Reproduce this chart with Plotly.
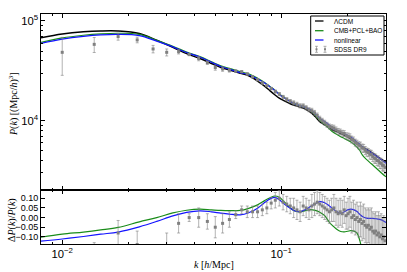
import plotly.graph_objects as go
from plotly.subplots import make_subplots

# ---------------- data ----------------
k_model = [0.008, 0.010, 0.0125, 0.015, 0.018, 0.0225, 0.027, 0.032, 0.037, 0.0425,
           0.048, 0.053, 0.058, 0.065, 0.071, 0.078, 0.084, 0.089, 0.0935, 0.098,
           0.104, 0.110, 0.116, 0.122, 0.129, 0.136, 0.143, 0.150, 0.158, 0.166,
           0.173, 0.180, 0.187, 0.194, 0.201, 0.208, 0.215, 0.222, 0.228, 0.235,
           0.245, 0.258, 0.272, 0.287, 0.301]
p_lcdm = [68000, 74000, 77800, 79400, 79400, 75000, 64000, 54500, 47000, 42000,
          37500, 34200, 32300, 29900, 28200, 25000, 22200, 19900, 18200, 16800,
          15700, 14800, 14200, 13700, 13100, 12200, 11000, 9800, 9100, 8500,
          8000, 7760, 7450, 7170, 6870, 6560, 6250, 5900, 5720, 5450,
          5150, 4800, 4450, 4100, 3850]
dp_cmb = [-0.102, -0.086, -0.075, -0.064, -0.051, -0.022, 0.0, 0.024, 0.038, 0.044,
          0.040, 0.037, 0.036, 0.037, 0.048, 0.066, 0.088, 0.103, 0.112, 0.105,
          0.078, 0.050, 0.033, 0.030, 0.036, 0.041, 0.037, 0.028, 0.010, -0.025,
          -0.045, -0.062, -0.072, -0.074, -0.071, -0.068, -0.070, -0.081, -0.115, -0.170,
          -0.205, -0.230, -0.250, -0.270, -0.290]
dp_nonlin = [-0.122, -0.111, -0.098, -0.086, -0.075, -0.048, -0.020, 0.009, 0.027, 0.035,
             0.030, 0.023, 0.018, 0.014, 0.025, 0.049, 0.078, 0.097, 0.105, 0.092,
             0.068, 0.049, 0.034, 0.031, 0.042, 0.057, 0.072, 0.083, 0.077, 0.060,
             0.044, 0.030, 0.023, 0.030, 0.040, 0.044, 0.040, 0.031, 0.018, 0.005,
             -0.003, -0.004, -0.006, -0.012, -0.026]

k_data = [0.010, 0.014, 0.018, 0.022, 0.026, 0.030, 0.034, 0.038, 0.042, 0.046,
          0.050, 0.054, 0.058, 0.062, 0.066, 0.070, 0.074, 0.078, 0.082, 0.086,
          0.090, 0.094, 0.098, 0.102, 0.106, 0.110, 0.114, 0.118, 0.122, 0.126,
          0.130, 0.134, 0.138, 0.142, 0.146, 0.150, 0.154, 0.158, 0.162, 0.166,
          0.170, 0.174, 0.178, 0.182, 0.186, 0.190, 0.194, 0.198, 0.202, 0.206,
          0.210, 0.214, 0.218, 0.222, 0.226, 0.230, 0.234, 0.238, 0.242, 0.246,
          0.250, 0.254, 0.258, 0.262, 0.266, 0.270, 0.274, 0.278, 0.282, 0.286,
          0.290, 0.294, 0.298]
p_data = [48500, 58300, 69700, 64600, 52400, 48500, 49200, 46000, 42000, 38200,
          34100, 33000, 32000, 31500, 31000, 29400, 27600, 25800, 23900, 22500,
          21000, 19600, 18500, 17300, 16400, 15700, 15100, 14600, 14100, 14100,
          13500, 12900, 12600, 12000, 11300, 10500, 10000, 9550, 9100, 8750,
          8600, 8450, 8100, 7830, 7730, 7500, 7450, 7070, 6970, 6850,
          6480, 6360, 6040, 5900, 5680, 5590, 5340, 5290, 5040, 4860,
          4800, 4610, 4560, 4370, 4210, 4170, 3990, 3960, 3780, 3740,
          3580, 3540, 3400]
p_data_err = [20000, 10000, 5500, 4200, 4500, 3900, 2500, 1000, 2100, 1500,
              2000, 1700, 1300, 700, 700, 850, 800, 750, 700, 650,
              600, 720, 670, 640, 610, 590, 720, 700, 690, 670,
              650, 620, 710, 670, 630, 590, 570, 550, 525, 510,
              500, 560, 550, 540, 525, 515, 500, 490, 550, 530,
              520, 500, 490, 470, 460, 510, 500, 490, 470, 460,
              450, 490, 480, 470, 460, 450, 440, 470, 460, 450,
              440, 430, 460]
dp_data = [-0.34, -0.26, -0.08, -0.14, -0.20, -0.16, -0.03, 0.00, 0.00, -0.02,
           -0.05, -0.03, -0.01, 0.015, 0.04, 0.03, 0.03, 0.03, 0.04, 0.05,
           0.075, 0.09, 0.10, 0.08, 0.07, 0.06, 0.05, 0.04, 0.03, 0.06,
           0.05, 0.04, 0.06, 0.07, 0.08, 0.07, 0.06, 0.05, 0.04, 0.03,
           0.04, 0.05, 0.03, 0.02, 0.03, 0.02, 0.04, 0.01, 0.02, 0.03,
           0.00, 0.01, -0.01, 0.00, -0.02, -0.01, -0.03, -0.02, -0.04, -0.05,
           -0.04, -0.06, -0.05, -0.07, -0.08, -0.07, -0.09, -0.08, -0.10, -0.09,
           -0.11, -0.10, -0.12]
dp_data_err = [0.15, 0.13, 0.065, 0.07, 0.06, 0.08, 0.05, 0.02, 0.05, 0.04,
               0.055, 0.05, 0.04, 0.02, 0.02, 0.03, 0.03, 0.03, 0.03, 0.03,
               0.03, 0.04, 0.04, 0.04, 0.04, 0.04, 0.05, 0.05, 0.05, 0.05,
               0.05, 0.05, 0.06, 0.06, 0.06, 0.06, 0.06, 0.06, 0.06, 0.06,
               0.06, 0.07, 0.07, 0.07, 0.07, 0.07, 0.07, 0.07, 0.08, 0.08,
               0.08, 0.08, 0.08, 0.08, 0.08, 0.09, 0.09, 0.09, 0.09, 0.09,
               0.09, 0.10, 0.10, 0.10, 0.10, 0.10, 0.10, 0.11, 0.11, 0.11,
               0.11, 0.11, 0.12]

legend_labels = ["\u039bCDM", "CMB+PCL+BAO", "nonlinear", "SDSS DR9"]
colors = {"lcdm": "black", "cmb": "#1a8c1a", "nl": "#1414ff", "data": "#808080"}

p_cmb = [p * (1 + d) for p, d in zip(p_lcdm, dp_cmb)]
p_nl = [p * (1 + d) for p, d in zip(p_lcdm, dp_nonlin)]

# ---------------- figure ----------------
W, H = 407, 272
ML, MR, MT, MB = 41, 21, 14, 28
PW, PH = W - ML - MR, H - MT - MB
bottom_frac = 54 / PH

fig = make_subplots(rows=2, cols=1, shared_xaxes=True, vertical_spacing=0,
                    row_heights=[1 - bottom_frac, bottom_frac])

err_col = "rgba(128,128,128,0.6)"

fig.add_trace(go.Scatter(x=k_model, y=p_lcdm, mode="lines", line=dict(color=colors["lcdm"], width=1.5, shape="spline"),
                         name=legend_labels[0], showlegend=False), row=1, col=1)
fig.add_trace(go.Scatter(x=k_model, y=p_cmb, mode="lines", line=dict(color=colors["cmb"], width=1.2, shape="spline"),
                         name=legend_labels[1], showlegend=False), row=1, col=1)
fig.add_trace(go.Scatter(x=k_model, y=p_nl, mode="lines", line=dict(color=colors["nl"], width=1.2, shape="spline"),
                         name=legend_labels[2], showlegend=False), row=1, col=1)
fig.add_trace(go.Scatter(x=k_data, y=p_data, mode="markers",
                         marker=dict(color=colors["data"], size=3, symbol="square"),
                         error_y=dict(type="data", array=p_data_err, color=err_col, thickness=1, width=1.5),
                         name=legend_labels[3], showlegend=False), row=1, col=1)

fig.add_hline(y=0, line=dict(color="black", width=1), row=2, col=1)
fig.add_trace(go.Scatter(x=k_model, y=dp_cmb, mode="lines", line=dict(color=colors["cmb"], width=1.2, shape="spline"),
                         showlegend=False), row=2, col=1)
fig.add_trace(go.Scatter(x=k_model, y=dp_nonlin, mode="lines", line=dict(color=colors["nl"], width=1.2, shape="spline"),
                         showlegend=False), row=2, col=1)
fig.add_trace(go.Scatter(x=k_data, y=dp_data, mode="markers",
                         marker=dict(color=colors["data"], size=3, symbol="square"),
                         error_y=dict(type="data", array=dp_data_err, color=err_col, thickness=1, width=1.5),
                         showlegend=False, cliponaxis=True), row=2, col=1)

tickfont = dict(family="Liberation Sans, Arial, sans-serif", size=9, color="black")
common = dict(showline=True, linecolor="black", linewidth=1, mirror="allticks", ticks="inside",
              ticklen=4, tickwidth=0.8, tickcolor="black", showgrid=False, zeroline=False, tickfont=tickfont)
minor = dict(ticks="inside", ticklen=2, tickwidth=0.6, tickcolor="black", showgrid=False)

xr = [-2.0969, -0.5214]
fig.update_xaxes(type="log", range=xr, dtick=1, exponentformat="power", minor=minor, **common)
fig.update_xaxes(showticklabels=False, row=1, col=1)
fig.update_yaxes(type="log", range=[3.305, 5.070], dtick=1, exponentformat="power", minor=minor, row=1, col=1, **common)
fig.update_yaxes(range=[-0.137, 0.143], dtick=0.05, tickformat=".2f", row=2, col=1, **common)

def px_x(px):
    return (px - ML) / PW

def px_y(py):
    return (H - MB - py) / PH

serif = dict(family="Liberation Serif, Times New Roman, serif", size=10, color="black")
ann = [
    dict(text="<i>P</i>(<i>k</i>) [(Mpc/<i>h</i>)<sup>3</sup>]", x=px_x(14), y=px_y(104), textangle=-90),
    dict(text="\u0394<i>P</i>(<i>k</i>)/<i>P</i>(<i>k</i>)", x=px_x(12), y=px_y(220), textangle=-90),
    dict(text="<i>k</i> [<i>h</i>/Mpc]", x=px_x(213.5), y=px_y(264.5), textangle=0),
]
for a in ann:
    fig.add_annotation(xref="paper", yref="paper", showarrow=False, xanchor="center", yanchor="middle",
                       font=serif, **a)

# legend drawn as a framed box
lx0, lx1, ly0, ly1 = 310.7, 384, 16, 55
fig.add_shape(type="rect", xref="paper", yref="paper", x0=px_x(lx0), x1=px_x(lx1), y0=px_y(ly1), y1=px_y(ly0),
              line=dict(color="black", width=1), fillcolor="white", layer="above")
rows_y = [21, 30.7, 40, 49.3]
for i in range(3):
    fig.add_shape(type="line", xref="paper", yref="paper", x0=px_x(315), x1=px_x(323.5),
                  y0=px_y(rows_y[i]), y1=px_y(rows_y[i]), line=dict(color=[colors["lcdm"], colors["cmb"], colors["nl"]][i], width=1.3),
                  layer="above")
for gx in (316.5, 325):
    fig.add_shape(type="line", xref="paper", yref="paper", x0=px_x(gx), x1=px_x(gx),
                  y0=px_y(rows_y[3] - 3), y1=px_y(rows_y[3] + 3), line=dict(color=err_col, width=1), layer="above")
    for dy in (-3, 3):
        fig.add_shape(type="line", xref="paper", yref="paper", x0=px_x(gx - 1.5), x1=px_x(gx + 1.5),
                      y0=px_y(rows_y[3] + dy), y1=px_y(rows_y[3] + dy), line=dict(color=err_col, width=1), layer="above")
    fig.add_shape(type="rect", xref="paper", yref="paper", x0=px_x(gx - 1), x1=px_x(gx + 1),
                  y0=px_y(rows_y[3] - 1), y1=px_y(rows_y[3] + 1), line=dict(width=0), fillcolor=colors["data"], layer="above")
for i, lab in enumerate(legend_labels):
    fig.add_annotation(xref="paper", yref="paper", x=px_x(331.5), y=px_y(rows_y[i]), text=lab, showarrow=False,
                       xanchor="left", yanchor="middle",
                       font=dict(family="Liberation Sans, Arial, sans-serif", size=6.5, color="black"))

fig.update_layout(width=W, height=H, margin=dict(l=ML, r=MR, t=MT, b=MB, pad=0),
                  paper_bgcolor="white", plot_bgcolor="white", showlegend=False)

fig.write_html("out.html", config={"displayModeBar": False},
               post_script="document.body.style.margin='0';document.body.style.padding='0';")
